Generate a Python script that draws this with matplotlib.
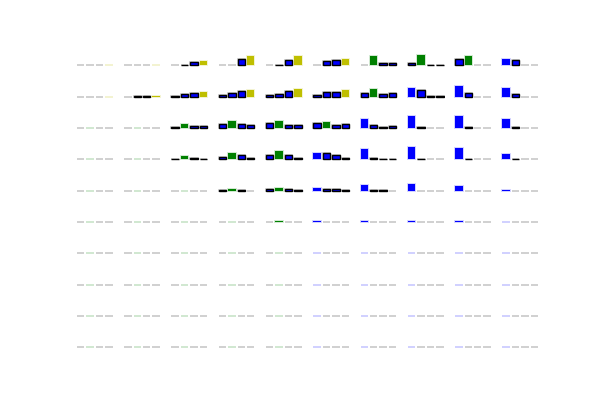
import matplotlib
matplotlib.use("Agg")
import matplotlib.pyplot as plt
import numpy as np

# valores por célula (10 linhas x 10 colunas, 4 ações cada)
Z = [0, 0, 0, 0]
q_values = [
    [Z, Z, [0, 0.07, 0.42, 0.55], [0, 0, 0.77, 1.03], [0, 0.07, 0.65, 1.03],
     [0, 0.54, 0.65, 0.77], [0, 1.03, 0.31, 0.31], [0.31, 1.15, 0.07, 0.07],
     [0.77, 1.03, 0, 0], [0.68, 0.66, 0, 0]],
    [Z, [0, 0.05, 0.05, 0.07], [0.12, 0.36, 0.48, 0.6], [0.23, 0.46, 0.65, 0.8],
     [0.19, 0.35, 0.65, 0.92], [0.23, 0.57, 0.57, 0.8], [0.46, 0.92, 0.35, 0.46],
     [1.03, 0.8, 0.05, 0.05], [1.26, 0.46, 0, 0], [1.03, 0.35, 0, 0]],
    [Z, Z, [0.1, 0.46, 0.19, 0.19], [0.42, 0.77, 0.46, 0.31], [0.54, 0.77, 0.31, 0.31],
     [0.54, 0.65, 0.31, 0.46], [1.03, 0.31, 0.1, 0.19], [1.34, 0.07, 0, 0],
     [1.34, 0.07, 0, 0], [1.03, 0.07, 0, 0]],
    [Z, Z, [0.07, 0.35, 0.19, 0.07], [0.31, 0.77, 0.5, 0.19], [0.54, 0.92, 0.46, 0.19],
     [0.77, 0.76, 0.46, 0.19], [1.19, 0.19, 0.07, 0.07], [1.46, 0.07, 0, 0],
     [1.34, 0.07, 0, 0], [0.65, 0.07, 0, 0]],
    [Z, Z, Z, [0.07, 0.19, 0.07, 0], [0.19, 0.35, 0.19, 0.07],
     [0.35, 0.19, 0.19, 0.07], [0.65, 0.07, 0.07, 0], [0.77, 0, 0, 0],
     [0.54, 0, 0, 0], [0.12, 0, 0, 0]],
    [Z, Z, Z, Z, [0, 0.1, 0, 0], [0.1, 0, 0, 0], [0.1, 0, 0, 0],
     [0.1, 0, 0, 0], [0.1, 0, 0, 0], Z],
    [Z] * 10,
    [Z] * 10,
    [Z] * 10,
    [Z] * 10,
]

# melhor ação por célula (define a cor)
best_action = [
    [3, 3, 3, 3, 3, 3, 1, 1, 1, 0],
    [3, 3, 3, 3, 3, 3, 1, 0, 0, 0],
    [1, 1, 1, 1, 1, 1, 0, 0, 0, 0],
    [1, 1, 1, 1, 1, 0, 0, 0, 0, 0],
    [1, 1, 1, 1, 1, 0, 0, 0, 0, 0],
    [1, 1, 1, 1, 1, 0, 0, 0, 0, 0],
    [1, 1, 1, 1, 1, 0, 0, 0, 0, 0],
    [1, 1, 1, 1, 1, 0, 0, 0, 0, 0],
    [1, 1, 1, 1, 1, 0, 0, 0, 0, 0],
    [1, 1, 1, 1, 1, 0, 0, 0, 0, 0],
]

cores_acao = ["b", "g", "r", "y"]
acoes = [0, 1, 2, 3]

fig, axes = plt.subplots(10, 10, figsize=(6, 4), dpi=100)

for i in range(10):
    for j in range(10):
        ax = axes[i][j]
        vals = q_values[i][j]
        best = best_action[i][j]
        # contorno claro por trás
        halo = ["k"] * 4
        halo[best] = cores_acao[best]
        for a in acoes:
            ax.bar(a, vals[a], width=0.8, facecolor="none",
                   edgecolor=halo[a], alpha=0.2, linewidth=1.3)
        for a in acoes:
            if vals[a] <= 0:
                continue
            if a == best:
                ax.bar(a, vals[a], width=0.8, color=cores_acao[a], linewidth=0)
            else:
                ax.bar(a, vals[a], width=0.8, facecolor="b", edgecolor="k", linewidth=1)
        ax.set_ylim(-1, 2)
        ax.set_xlim(-0.59, 3.59)
        ax.axis("off")

fig.savefig("out.png", dpi=100)
